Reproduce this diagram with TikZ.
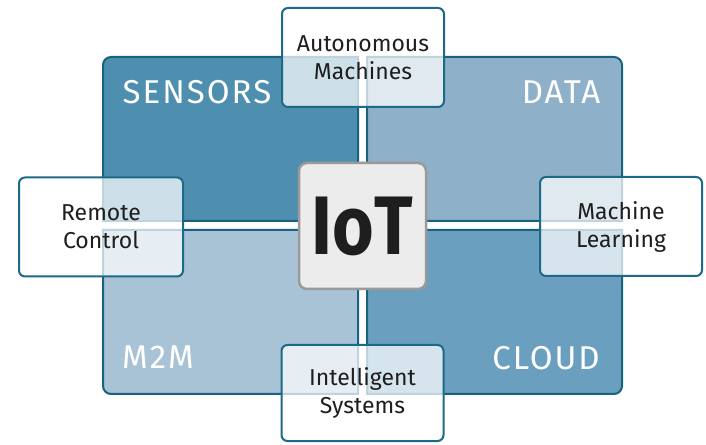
\documentclass[tikz,border=0pt]{standalone}
\usepackage{fontspec}
\setmainfont{Fira Sans}
\newfontfamily\quadfont[LetterSpace=6]{Fira Sans}
\usetikzlibrary{positioning}
\definecolor{qborder}{HTML}{17627F}
\definecolor{qsens}{HTML}{4E8FAF}
\definecolor{qdata}{HTML}{8EB1C9}
\definecolor{qmtm}{HTML}{A8C3D6}
\definecolor{qcloud}{HTML}{6A9FBF}
\definecolor{bxborder}{HTML}{1D6988}
\definecolor{iotfill}{HTML}{ECECEC}
\definecolor{iotborder}{HTML}{9A9A9A}
\definecolor{txt}{HTML}{1E1E1E}
\tikzset{
  quad/.style={draw=qborder, line width=2pt},
  quadlabel/.style={text=white, font=\quadfont\fontsize{33}{33}\selectfont, inner sep=0pt},
  topicbox/.style={draw=bxborder, line width=2pt, fill=white, fill opacity=0.72, text opacity=1,
    rounded corners=6pt, align=center, text=txt, font=\fontsize{23}{28}\selectfont,
    minimum width=162pt, minimum height=99pt, inner sep=0pt},
  iotbox/.style={draw=iotborder, line width=2.5pt, fill=iotfill, rounded corners=8pt,
    minimum width=127pt, minimum height=126pt, inner sep=0pt}
}
\begin{document}
\begin{tikzpicture}[x=1pt, y=1pt]
\useasboundingbox (0,0) rectangle (706,444);
% quadrants
\draw[quad, fill=qsens] (358,223) -- (103,223) -- (103,379) arc[start angle=180, end angle=90, radius=8] -- (358,387) -- cycle;
\draw[quad, fill=qdata] (367,223) -- (622,223) -- (622,379) arc[start angle=0, end angle=90, radius=8] -- (367,387) -- cycle;
\draw[quad, fill=qmtm] (358,214) -- (103,214) -- (103,58) arc[start angle=180, end angle=270, radius=8] -- (358,50) -- cycle;
\draw[quad, fill=qcloud] (367,214) -- (622,214) -- (622,58) arc[start angle=0, end angle=-90, radius=8] -- (367,50) -- cycle;
% quadrant labels
\node[quadlabel] (sensors) at (197,352) {SENSORS};
\node[quadlabel] (data) at (561,352) {DATA};
\node[quadlabel] (mtm) at (158,87) {M2M};
\node[quadlabel] (cloud) at (546,86) {CLOUD};
% centre
\node[iotbox] (iot) at (362.5,218) {\scalebox{0.86}[1]{\fontsize{83}{83}\selectfont\bfseries\color{txt}IoT}};
% topic boxes
\node[topicbox] (auto) at (363,386.5) {Autonomous\\Machines};
\node[topicbox] (ml) at (621,217.5) {Machine\\Learning};
\node[topicbox, minimum width=164pt] (remote) at (101,217) {Remote\\Control};
\node[topicbox, minimum height=96pt] (intel) at (362.5,51) {Intelligent\\Systems};
\end{tikzpicture}
\end{document}
